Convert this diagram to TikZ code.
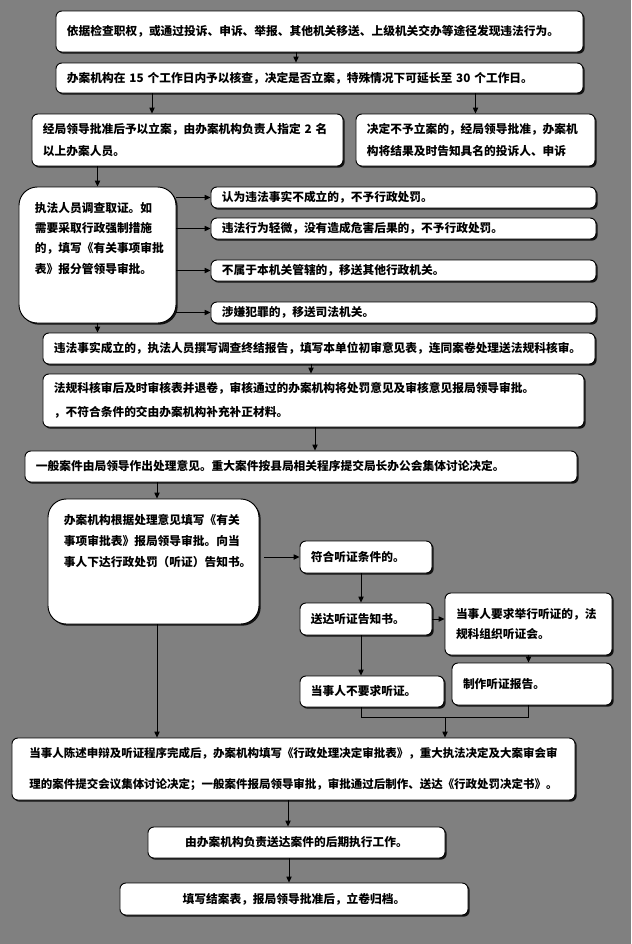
\documentclass[tikz,border=0pt]{standalone}
\usepackage{fontspec}
\setmainfont{Noto Sans CJK SC}
\usepackage{tikz}
\usetikzlibrary{arrows.meta, shadows}
\definecolor{pagegray}{RGB}{128, 128, 128}

\begin{document}
\begin{tikzpicture}[
  x=0.03cm, y=-0.03cm,
  box/.style={draw=black, line width=0.8pt, fill=white, rounded corners=5pt, inner xsep=0.33cm, inner ysep=0pt, align=left, font=\bfseries\fontsize{10}{18}\selectfont, drop shadow={shadow xshift=0.05cm, shadow yshift=-0.05cm, fill=black, opacity=0.85}},
  bigbox/.style={box, rounded corners=0.55cm, inner xsep=0.48cm, inner ysep=0.45cm},
  midbox/.style={box, align=center},
  flow/.style={draw=black, line width=0.7pt, -{Triangle[length=5pt, width=4.5pt]}},
  link/.style={draw=black, line width=0.7pt}
]
  % Background
  \fill[pagegray] (0,0) rectangle (631,944);

  % Filing
  \node[box, text width=15.15cm, minimum height=1.23cm] (find) at (319.5,31.5) {依据检查职权，或通过投诉、申诉、举报、其他机关移送、上级机关交办等途径发现违法行为。};
  \node[box, text width=15.15cm, minimum height=0.9cm] (check) at (319.5,78) {办案机构在 15 个工作日内予以核查，决定是否立案，特殊情况下可延长至 30 个工作日。};
  \node[box, text width=8.67cm, minimum height=1.56cm, font=\bfseries\fontsize{10}{18.7}\selectfont] (filed) at (187.5,140) {经局领导批准后予以立案，由办案机构负责人指定 2 名\\以上办案人员。};
  \node[box, text width=6.51cm, minimum height=1.56cm, font=\bfseries\fontsize{10}{18.7}\selectfont] (notfiled) at (475.5,140) {决定不予立案的，经局领导批准，办案机\\构将结果及时告知具名的投诉人、申诉};

  % Investigation
  \node[bigbox, font=\bfseries\fontsize{10}{17.4}\selectfont] (invest) at (97.5,255) {\begin{minipage}[t][3.18cm][t]{3.75cm}执法人员调查取证。如\\需要采取行政强制措施\\的，填写《有关事项审批\\表》报分管领导审批。\end{minipage}};
  \node[box, text width=10.89cm, minimum height=0.63cm] (r1) at (403.5,197.5) {认为违法事实不成立的，不予行政处罚。};
  \node[box, text width=10.89cm, minimum height=0.63cm] (r2) at (403.5,228.5) {违法行为轻微，没有造成危害后果的，不予行政处罚。};
  \node[box, text width=10.89cm, minimum height=0.63cm] (r3) at (403.5,270.5) {不属于本机关管辖的，移送其他行政机关。};
  \node[box, text width=10.89cm, minimum height=0.63cm] (r4) at (403.5,312.5) {涉嫌犯罪的，移送司法机关。};

  % Review
  \node[box, text width=15.9cm, minimum height=0.93cm] (report) at (319,348.5) {违法事实成立的，执法人员撰写调查终结报告，填写本单位初审意见表，连同案卷处理送法规科核审。};
  \node[box, text width=15.57cm, minimum height=1.59cm, font=\bfseries\fontsize{10}{20.4}\selectfont] (review) at (313.5,400.5) {法规科核审后及时审核表并退卷，审核通过的办案机构将处罚意见及审核意见报局领导审批。\\，不符合条件的交由办案机构补充补正材料。};
  \node[box, text width=15.9cm, minimum height=0.93cm] (decide) at (301,466.5) {一般案件由局领导作出处理意见。重大案件按县局相关程序提交局长办公会集体讨论决定。};

  % Hearing
  \node[bigbox, font=\bfseries\fontsize{10}{17.9}\selectfont] (notice) at (153.5,561.5) {\begin{minipage}[t][2.85cm][t]{5.37cm}办案机构根据处理意见填写《有关\\事项审批表》报局领导审批。向当\\事人下达行政处罚（听证）告知书。\end{minipage}};
  \node[box, text width=3.3cm, minimum height=0.96cm] (hearok) at (366,557) {符合听证条件的。};
  \node[box, text width=3.3cm, minimum height=0.96cm] (send) at (366,619) {送达听证告知书。};
  \node[box, text width=4.35cm, minimum height=1.86cm, font=\bfseries\fontsize{10}{17}\selectfont] (request) at (528.5,624) {当事人要求举行听证的，法\\规科组织听证会。};
  \node[box, text width=4.14cm, minimum height=1.26cm] (hreport) at (532,684) {制作听证报告。};
  \node[box, text width=3.66cm, minimum height=0.93cm] (norequest) at (372,691.5) {当事人不要求听证。};
  \coordinate (merge) at (445,717);

  % Closing
  \node[midbox, minimum width=16.89cm, minimum height=1.86cm, font=\bfseries\fontsize{9.8}{26.4}\selectfont] (final) at (293.5,769) {当事人陈述申辩及听证程序完成后，办案机构填写《行政处理决定审批表》，重大执法决定及大案审会审\\理的案件提交会议集体讨论决定；一般案件报局领导审批，审批通过后制作、送达《行政处罚决定书》。};
  \node[midbox, minimum width=8.91cm, minimum height=0.93cm] (execute) at (296.5,842.5) {由办案机构负责送达案件的后期执行工作。};
  \node[midbox, minimum width=10.44cm, minimum height=0.96cm] (archive) at (294,899) {填写结案表，报局领导批准后，立卷归档。};

  % Connectors
  \draw[flow] (find.south -| 296,0) -- (check.north -| 296,0);
  \draw[flow] (check.south -| 152,0) -- (filed.north -| 152,0);
  \draw[flow] (notfiled.north |- check.south) -- (notfiled.north);
  \draw[flow] (invest.north |- filed.south) -- (invest.north);
  \foreach \r in {r1,r2,r3,r4}
    \draw[flow] (invest.east |- \r.west) -- (\r.west);
  \draw[flow] (invest.south) -- (invest.south |- report.north);
  \draw[flow] (report.south -| 311,0) -- (review.north -| 311,0);
  \draw[flow] (review.south -| 315,0) -- (decide.north -| 315,0);
  \draw[flow] (decide.south -| 157,0) -- (notice.north -| 157,0);
  \draw[flow, shorten <=4pt] (notice.east |- hearok.west) -- (hearok.west);
  \draw[flow] (hearok.south -| 361,0) -- (send.north -| 361,0);
  \draw[flow] (send.east) -- (request.west |- send.east);
  \draw[flow] (request.south) -- (request.south |- hreport.north);
  \draw[flow] (send.south -| 361,0) -- (norequest.north -| 361,0);
  \draw[link] (norequest.south -| 361,0) |- (merge) -| (request.south |- hreport.south);
  \draw[flow] (merge) -- (merge |- final.north);
  \draw[flow] (notice.south -| 157,0) -- (157,0 |- final.north);
  \draw[flow] (final.south -| 288,0) -- (execute.north -| 288,0);
  \draw[flow] (execute.south -| 289,0) -- (archive.north -| 289,0);
\end{tikzpicture}
\end{document}
